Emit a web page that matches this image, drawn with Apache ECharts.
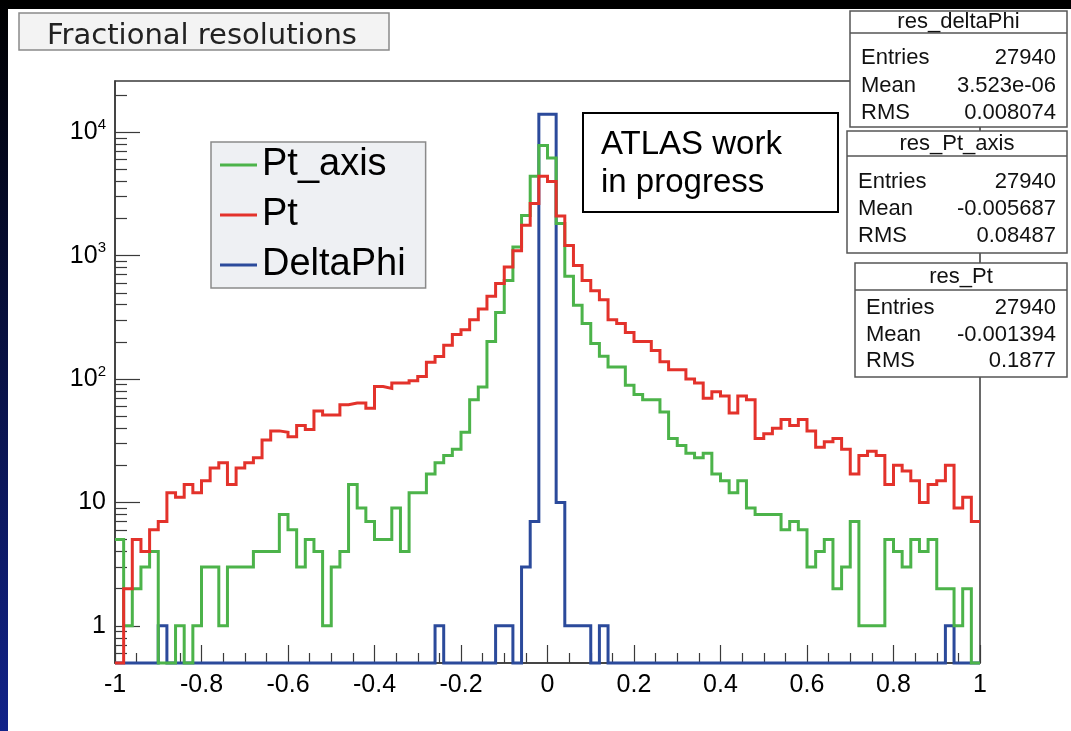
<!DOCTYPE html>
<html>
<head>
<meta charset="utf-8">
<script src="https://cdn.jsdelivr.net/npm/echarts@6/dist/echarts.min.js"></script>
<style>
html,body{margin:0;padding:0;background:#000;}
#chart{width:1071px;height:731px;}
</style>
</head>
<body>
<div id="chart"></div>
<script>
// ---- binning ----
const X_MIN = -1, X_MAX = 1, BIN_WIDTH = 0.02;
const Y_MIN = 0.5, Y_MAX = 26000;

// ---- histogram contents (100 bins, -1 .. 1) ----
const ptAxis = [
  5,1,2,3,4,0,0,1,0,1,
  3,3,1,3,3,3,4,4,4,8,
  6,3,5,4,1,3,4,14,9,7,
  5,5,9,4,12,12,17,21,24,27,
  37,68,86,201,346,628,1172,2115,4400,7820,
  6170,1820,682,396,282,194,153,125,125,89,
  75,68,68,54,33,29,25,23,25,17,
  15,12,15,9,8,8,8,6,7,6,
  3,4,5,2,3,7,1,1,1,5,
  4,3,5,4,5,2,2,1,2,0
];
const pt = [
  0,2,5,4,6,7,12,11,14,12,
  15,19,21,14,19,21,23,32,38,37,
  34,42,39,55,51,51,62,64,64,58,
  87,84,93,93,97,105,137,152,188,230,
  251,302,370,469,594,807,1095,1760,2640,4390,
  3980,2090,1210,833,630,519,438,302,282,238,
  201,201,170,138,119,119,100,93,70,79,
  73,53,73,68,33,36,40,47,42,47,
  38,28,31,33,27,17,24,26,24,14,
  20,18,15,10,14,15,20,9,11,7
];
const deltaPhi = [
  0,0,0,0,0,1,0,0,0,0,
  0,0,0,0,0,0,0,0,0,0,
  0,0,0,0,0,0,0,0,0,0,
  0,0,0,0,0,0,0,1,0,0,
  0,0,0,0,1,1,0,3,7,13950,
  13950,10,1,1,1,0,1,0,0,0,
  0,0,0,0,0,0,0,0,0,0,
  0,0,0,0,0,0,0,0,0,0,
  0,0,0,0,0,0,0,0,0,0,
  0,0,0,0,0,0,1,0,0,0
];

const seriesNames = ['Pt_axis', 'Pt', 'DeltaPhi'];
const seriesColors = ['#4cb34a', '#e3322b', '#2b4a9b'];

const yMajorTicks = [1, 10, 100, 1000, 10000];
const yMinorTicks = [0.6,0.7,0.8,0.9, 2,3,4,5,6,7,8,9, 20,30,40,50,60,70,80,90,
  200,300,400,500,600,700,800,900, 2000,3000,4000,5000,6000,7000,8000,9000, 20000];

const titleText = 'Fractional resolutions';
const atlasLines = ['ATLAS work', 'in progress'];
const statNames = ['res_deltaPhi', 'res_Pt_axis', 'res_Pt'];
const statEntries = ['27940', '27940', '27940'];
const statMeans = ['3.523e-06', '-0.005687', '-0.001394'];
const statRms = ['0.008074', '0.08487', '0.1877'];

// ---- build step outlines ----
function histPoints(counts) {
  const pts = [];
  for (let i = 0; i < counts.length; i++) {
    const x = +(X_MIN + i * BIN_WIDTH).toFixed(6);
    pts.push([x, counts[i] > 0 ? counts[i] : Y_MIN]);
  }
  const last = counts[counts.length - 1];
  pts.push([X_MAX, last > 0 ? last : Y_MIN]);
  return pts;
}

const histData = [ptAxis, pt, deltaPhi];
const zOrder = [3, 4, 2];
const series = histData.map((d, k) => ({
  name: seriesNames[k],
  type: 'line',
  step: 'end',
  data: histPoints(d),
  showSymbol: false,
  symbol: 'none',
  clip: false,
  color: seriesColors[k],
  lineStyle: { width: 3, color: seriesColors[k], join: 'miter' },
  z: zOrder[k],
  animation: false,
  xAxisIndex: 0,
  yAxisIndex: 0
}));

const FONT = "'Liberation Sans', Arial, Helvetica, sans-serif";
const AXIS_COLOR = '#3a3a3a';

// ---- graphic elements: title, stats boxes, ATLAS label, border ----
const graphics = [];
// outer slide border
graphics.push({ type: 'rect', shape: { x: 0, y: 0, width: 1071, height: 9 }, style: { fill: '#000' }, z: 200, silent: true });
graphics.push({ type: 'rect', shape: { x: 0, y: 0, width: 8, height: 731 },
  style: { fill: new echarts.graphic.LinearGradient(0, 0, 0, 1, [{ offset: 0, color: '#000' }, { offset: 1, color: '#12238a' }]) }, z: 200, silent: true });

// title box
graphics.push({ type: 'rect', shape: { x: 19, y: 13, width: 370, height: 37 },
  style: { fill: '#f3f3f3', stroke: '#8a8a8a', lineWidth: 1.5 }, z: 100 });
graphics.push({ type: 'text', x: 47, y: 36, style: { text: titleText, font: "29px 'DejaVu Sans', sans-serif", fill: '#222', textVerticalAlign: 'middle' }, z: 101 });

// ATLAS box
graphics.push({ type: 'rect', shape: { x: 583, y: 113, width: 255, height: 99 },
  style: { fill: '#fff', stroke: '#000', lineWidth: 2 }, z: 100 });
atlasLines.forEach((t, i) => {
  graphics.push({ type: 'text', x: 601, y: 145 + i * 38, style: { text: t, font: "33px 'Liberation Sans', Arial, sans-serif", fill: '#000', textVerticalAlign: 'middle' }, z: 101 });
});

// stats boxes
const boxGeom = [
  { x: 850, y: 11, w: 217, h: 116, head: 22, sep: 33, rows: [58, 86, 113] },
  { x: 847, y: 131, w: 220, h: 122, head: 144, sep: 156, rows: [182, 209, 236] },
  { x: 855, y: 263, w: 212, h: 114, head: 277, sep: 290, rows: [308, 335, 361] }
];
boxGeom.forEach((g, k) => {
  graphics.push({ type: 'rect', shape: { x: g.x, y: g.y, width: g.w, height: g.h },
    style: { fill: '#fff', stroke: '#555', lineWidth: 1.5 }, z: 100 });
  graphics.push({ type: 'line', shape: { x1: g.x, y1: g.sep, x2: g.x + g.w, y2: g.sep },
    style: { stroke: '#555', lineWidth: 1.5 }, z: 101 });
  graphics.push({ type: 'text', x: g.x + g.w / 2, y: g.head, style: { text: statNames[k], font: '22px ' + FONT, fill: '#111', textAlign: 'center', textVerticalAlign: 'middle' }, z: 102 });
  const labels = ['Entries', 'Mean', 'RMS'];
  const vals = [statEntries[k], statMeans[k], statRms[k]];
  labels.forEach((lab, r) => {
    graphics.push({ type: 'text', x: g.x + 11, y: g.rows[r], style: { text: lab, font: '22px ' + FONT, fill: '#111', textVerticalAlign: 'middle' }, z: 102 });
    graphics.push({ type: 'text', x: g.x + g.w - 11, y: g.rows[r], style: { text: vals[r], font: '22px ' + FONT, fill: '#111', textAlign: 'right', textVerticalAlign: 'middle' }, z: 102 });
  });
});

const chart = echarts.init(document.getElementById('chart'), null, { renderer: 'canvas' });
chart.setOption({
  backgroundColor: '#ffffff',
  animation: false,
  grid: { left: 115, right: 91, top: 81, bottom: 68, show: true, borderColor: AXIS_COLOR, borderWidth: 1.5, backgroundColor: '#fff', containLabel: false },
  legend: {
    data: seriesNames,
    orient: 'vertical',
    left: 211, top: 142,
    icon: 'rect',
    itemWidth: 37, itemHeight: 3,
    itemGap: 12,
    itemTextGap: 8,
    padding: [4, 20, 4, 9],
    backgroundColor: '#eef0f3',
    borderColor: '#8a8a8a',
    borderWidth: 1.5,
    textStyle: { fontSize: 38, fontFamily: FONT, color: '#000', lineHeight: 38 },
    selectedMode: false
  },
  xAxis: [{
    type: 'value', min: X_MIN, max: X_MAX, interval: 0.2,
    axisLine: { show: true, onZero: false, lineStyle: { color: AXIS_COLOR, width: 1.5 } },
    axisTick: { show: true, inside: true, length: 18, lineStyle: { color: AXIS_COLOR, width: 1.2 } },
    minorTick: { show: true, splitNumber: 4, length: 10, lineStyle: { color: AXIS_COLOR, width: 1.2 } },
    splitLine: { show: false },
    axisLabel: { fontSize: 25, fontFamily: FONT, color: '#000', margin: 10 }
  }],
  yAxis: [{
    type: 'log', logBase: 10, min: Y_MIN, max: Y_MAX, position: 'left',
    axisLine: { show: true, onZero: false, lineStyle: { color: AXIS_COLOR, width: 1.5 } },
    axisTick: { show: true, inside: true, length: 25, customValues: yMajorTicks, lineStyle: { color: AXIS_COLOR, width: 1.2 } },
    splitLine: { show: false },
    minorTick: { show: false },
    axisLabel: {
      customValues: yMajorTicks,
      margin: 9,
      color: '#000',
      fontFamily: FONT,
      formatter: function (v) {
        const e = Math.round(Math.log10(v));
        if (e === 0) return '{b|1}';
        if (e === 1) return '{b|10}';
        return '{b|10}{s|' + e + '}';
      },
      rich: {
        b: { fontSize: 25, fontFamily: FONT, color: '#000', lineHeight: 30 },
        s: { fontSize: 15, fontFamily: FONT, color: '#000', verticalAlign: 'top', lineHeight: 15 }
      }
    }
  }, {
    type: 'log', logBase: 10, min: Y_MIN, max: Y_MAX, position: 'left', offset: 0,
    axisLine: { show: false, onZero: false },
    axisTick: { show: true, inside: true, length: 12, customValues: yMinorTicks, lineStyle: { color: AXIS_COLOR, width: 1.2 } },
    axisLabel: { show: false },
    splitLine: { show: false }
  }],
  graphic: graphics,
  series: series
});
</script>
</body>
</html>
